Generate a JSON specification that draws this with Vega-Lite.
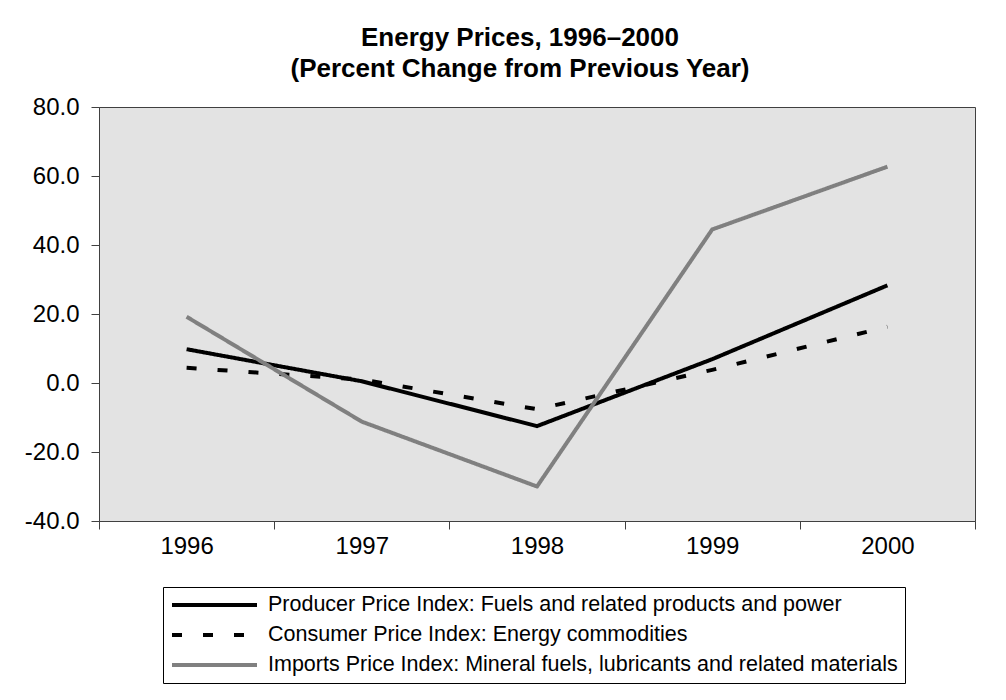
{
  "$schema": "https://vega.github.io/schema/vega-lite/v6.json",
  "autosize": {"type": "none"},
  "padding": {"left": 99, "top": 107, "right": 31, "bottom": 179},
  "width": 876,
  "height": 414,
  "background": "white",
  "title": {
    "text": ["Energy Prices, 1996–2000", "(Percent Change from Previous Year)"],
    "font": "Liberation Sans",
    "fontSize": 26,
    "fontWeight": "bold",
    "color": "black",
    "lineHeight": 31,
    "anchor": "middle",
    "dx": -17,
    "offset": 13
  },
  "data": {
    "values": [
      {"year": "1996", "series": "Producer Price Index: Fuels and related products and power", "value": 9.8},
      {"year": "1997", "series": "Producer Price Index: Fuels and related products and power", "value": 0.5},
      {"year": "1998", "series": "Producer Price Index: Fuels and related products and power", "value": -12.5},
      {"year": "1999", "series": "Producer Price Index: Fuels and related products and power", "value": 6.9},
      {"year": "2000", "series": "Producer Price Index: Fuels and related products and power", "value": 28.3},
      {"year": "1996", "series": "Consumer Price Index: Energy commodities", "value": 4.4},
      {"year": "1997", "series": "Consumer Price Index: Energy commodities", "value": 1.0},
      {"year": "1998", "series": "Consumer Price Index: Energy commodities", "value": -7.6},
      {"year": "1999", "series": "Consumer Price Index: Energy commodities", "value": 3.8},
      {"year": "2000", "series": "Consumer Price Index: Energy commodities", "value": 16.3},
      {"year": "1996", "series": "Imports Price Index: Mineral fuels, lubricants and related materials", "value": 19.2},
      {"year": "1997", "series": "Imports Price Index: Mineral fuels, lubricants and related materials", "value": -11.2},
      {"year": "1998", "series": "Imports Price Index: Mineral fuels, lubricants and related materials", "value": -30.0},
      {"year": "1999", "series": "Imports Price Index: Mineral fuels, lubricants and related materials", "value": 44.5},
      {"year": "2000", "series": "Imports Price Index: Mineral fuels, lubricants and related materials", "value": 62.7}
    ]
  },
  "encoding": {
    "x": {
      "field": "year", "type": "ordinal",
      "scale": {"type": "band", "paddingInner": 0, "paddingOuter": 0},
      "axis": {
        "title": null, "labelAngle": 0, "tickBand": "extent",
        "domainColor": "#404040", "tickColor": "#404040", "tickSize": 8,
        "labelFont": "Liberation Sans", "labelFontSize": 24, "labelColor": "black",
        "labelPadding": 5
      }
    },
    "y": {
      "field": "value", "type": "quantitative",
      "scale": {"domain": [-40, 80], "nice": false, "zero": false},
      "axis": {
        "title": null, "values": [-40, -20, 0, 20, 40, 60, 80], "format": ".1f",
        "labelExpr": "replace(datum.label, '−', '-')",
        "grid": false, "domainColor": "#404040", "tickColor": "#404040", "tickSize": 8,
        "labelFont": "Liberation Sans", "labelFontSize": 24, "labelColor": "black",
        "labelPadding": 12
      }
    }
  },
  "layer": [
    {
      "mark": {"type": "rule", "color": "#404040", "strokeWidth": 1},
      "encoding": {"y": {"datum": 0}}
    },
    {
      "mark": {"type": "line", "strokeWidth": 4, "strokeJoin": "round"},
      "encoding": {
        "color": {
          "field": "series", "type": "nominal",
          "scale": {
            "domain": ["Producer Price Index: Fuels and related products and power", "Consumer Price Index: Energy commodities", "Imports Price Index: Mineral fuels, lubricants and related materials"],
            "range": ["black", "black", "#808080"]
          },
          "legend": {
            "title": null, "orient": "none", "legendX": 64, "legendY": 480,
            "direction": "vertical",
            "strokeColor": "black", "padding": 7, "fillColor": "white",
            "symbolType": "stroke", "symbolSize": 7225, "symbolStrokeWidth": 4,
            "clipHeight": 22,
            "labelFont": "Liberation Sans", "labelFontSize": 21.5, "labelColor": "black",
            "labelOffset": 9, "rowPadding": 8, "labelLimit": 900
          }
        },
        "strokeDash": {
          "field": "series", "type": "nominal",
          "scale": {
            "domain": ["Producer Price Index: Fuels and related products and power", "Consumer Price Index: Energy commodities", "Imports Price Index: Mineral fuels, lubricants and related materials"],
            "range": [[1, 0], [10, 21], [1, 0]]
          },
          "legend": {
            "title": null, "orient": "none", "legendX": 64, "legendY": 480,
            "direction": "vertical",
            "strokeColor": "black", "padding": 7, "fillColor": "white",
            "symbolType": "stroke", "symbolSize": 7225, "symbolStrokeWidth": 4,
            "clipHeight": 22,
            "labelFont": "Liberation Sans", "labelFontSize": 21.5, "labelColor": "black",
            "labelOffset": 9, "rowPadding": 8, "labelLimit": 900
          }
        },
        "order": {"field": "year"}
      }
    }
  ],
  "config": {
    "view": {"fill": "#e3e3e3", "stroke": "#404040", "strokeWidth": 1}
  }
}
